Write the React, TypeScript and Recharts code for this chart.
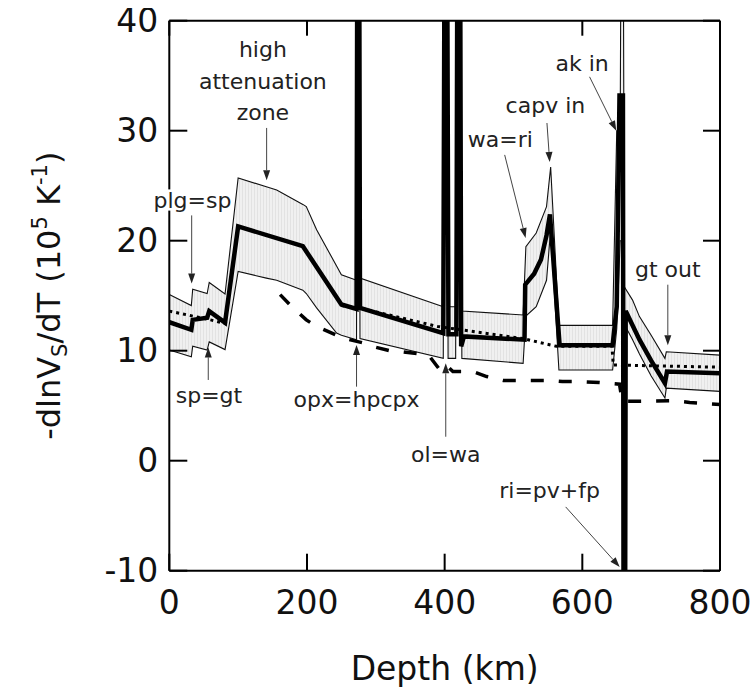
import React from "react";
import { ComposedChart, Line, Area, XAxis, YAxis, ReferenceLine, ReferenceDot } from "recharts";

const xTicks = [0, 200, 400, 600, 800];
const yTicks = [-10, 0, 10, 20, 30, 40];

// envelope (shaded band) - depth km, upper / lower bound
const bandDepth = [0, 32, 34, 55, 58, 81, 100, 141, 156, 194, 199, 214, 243, 250, 272, 273.5, 275.5, 277, 398, 400, 403, 405, 416, 418, 423, 425, 514, 518, 533, 548, 554, 566, 644, 650, 655, 657, 659, 661, 673, 683, 700, 720, 722, 800];
const bandUpper = [15.1, 14.1, 15.6, 15.2, 16.2, 15.15, 25.7, 24.9, 24.6, 23.3, 23.1, 21.0, 17.7, 16.9, 16.4, 60, 60, 16.6, 14.0, 60, 60, 14.0, 14.0, 60, 60, 13.6, 13.25, 19.45, 20.7, 23.1, 26.7, 12.3, 12.3, 30, 30, 60, 60, 15.8, 14.6, 13.1, 11.4, 9.3, 9.9, 9.6];
const bandLower = [10.06, 9.45, 10.4, 10.06, 10.8, 10.1, 17.2, 16.6, 16.4, 15.5, 15.2, 13.9, 11.6, 11.4, 11.0, 60, 60, 11.1, 9.3, 60, 60, 9.3, 9.3, 60, 60, 9.3, 8.85, 13.15, 14.0, 16.4, 21.0, 8.25, 8.25, 12, 20, 20, 20, 12.4, 11.0, 9.7, 7.7, 5.7, 6.6, 6.3];

// thick mean curve
const meanDepth = [0, 32, 34, 55, 58, 81, 100, 194, 250, 272, 273.5, 275.5, 277, 398, 400.5, 403, 405.5, 417, 419, 422, 424, 428, 516, 517, 530, 540, 548, 553, 567, 644, 650, 654, 659, 660, 662, 663, 683, 700, 720, 723, 800];
const meanValue = [12.6, 11.9, 12.8, 13.0, 13.6, 12.55, 21.3, 19.5, 14.2, 13.8, 60, 60, 13.9, 11.6, 60, 60, 11.5, 11.5, 60, 60, 10.4, 11.3, 11.0, 16.0, 17.0, 18.3, 20.5, 22.4, 10.5, 10.5, 14, 33.2, 33.2, -20, -20, 13.6, 11.0, 9.1, 7.05, 8.1, 7.95];

// dotted curve (gap in the high attenuation zone)
const dotDepth = [0, 30, 60, 85, 86, 250, 275, 390, 514, 562, 643, 645, 800];
const dotValue = [13.6, 13.2, 12.8, 12.4, null, 14.1, 13.9, 12.2, 11.1, 10.4, 10.4, 8.7, 8.5];

// dashed curve
const dashDepth = [161, 175, 199, 214, 243, 255, 282, 294, 320, 339, 364, 378, 393, 402, 412, 441, 461, 485, 553, 571, 592, 625, 654, 658, 673, 731, 756, 800];
const dashValue = [15.1, 14.2, 12.8, 12.2, 11.4, 11.1, 10.7, 10.4, 10.0, 9.9, 9.7, 9.5, 8.25, 8.7, 8.1, 8.1, 7.65, 7.3, 7.3, 7.2, 7.2, 7.1, 6.95, 5.4, 5.4, 5.45, 5.3, 5.1];

// annotation texts: text, depth, value (baseline centre)
const noteText = ["high", "attenuation", "zone", "plg=sp", "sp=gt", "opx=hpcpx", "ol=wa", "ri=pv+fp", "wa=ri", "capv in", "ak in", "gt out"];
const noteDepth = [136, 136, 136, 33.7, 57.6, 272, 401.6, 552.5, 480.8, 546.4, 599.7, 724.2];
const noteValue = [36.7, 33.8, 31.0, 22.97, 5.24, 4.88, -0.12, -3.39, 28.5, 31.6, 35.4, 16.7];

// annotation arrows: from (d1,v1) to (d2,v2)
const arrowFrom = [[141.4, 30.25], [32.5, 22.3], [56.6, 7.34], [272, 6.73], [401.6, 2.18], [575.8, -4.2], [487.2, 27.8], [548.6, 30.7], [610.5, 34.9], [724.2, 16.0]];
const arrowTo = [[141.4, 25.5], [32.5, 16.1], [56.6, 10.3], [272, 10.52], [401.6, 8.85], [654.3, -9.66], [517.6, 20.25], [552.6, 27.16], [649.3, 30.0], [724.2, 10.5]];

const rows = (ds: number[], vs: (number | null)[]) => ds.map((d, i) => ({ d, v: vs[i] }));

const bandRows = bandDepth.map((d, i) => ({ d, range: [bandLower[i], bandUpper[i]] }));
const upperRows = rows(bandDepth, bandUpper);
const lowerRows = rows(bandDepth, bandLower);
const meanRows = rows(meanDepth, meanValue);
const dotRows = rows(dotDepth, dotValue);
const dashRows = rows(dashDepth, dashValue);

const W = 745;
const H = 683;
const MARGIN = { top: 12.7, right: 33, bottom: 40.3, left: 11.3 };
const X_DOMAIN = [0, 800];
const Y_DOMAIN = [-10, 40];
const FONT = "DejaVu Sans";

const Arrow = (p: any) => {
  const { x1, y1, x2, y2 } = p;
  const a = Math.atan2(y2 - y1, x2 - x1);
  const L = 10;
  const Wd = 3.5;
  const bx = x2 - L * Math.cos(a);
  const by = y2 - L * Math.sin(a);
  const pts = `${x2},${y2} ${bx + Wd * Math.sin(a)},${by - Wd * Math.cos(a)} ${bx - Wd * Math.sin(a)},${by + Wd * Math.cos(a)}`;
  return (
    <g>
      <line x1={x1} y1={y1} x2={bx} y2={by} stroke="#444" strokeWidth={1} />
      <polygon points={pts} fill="#222" />
    </g>
  );
};

const noteShape = (text: string) => (p: any) => (
  <text
    x={p.cx}
    y={p.cy}
    textAnchor="middle"
    fontSize={22}
    fontFamily={FONT}
    fill="#222"
    stroke="#fff"
    strokeWidth={5}
    paintOrder="stroke"
  >
    {text}
  </text>
);

const YTitle = (props: any) => {
  const vb = props.viewBox || { x: 11.3, y: 12.7, width: 150, height: 550 };
  const cx = vb.x + 41;
  const cy = vb.y + vb.height / 2;
  return (
    <text
      x={cx}
      y={cy}
      transform={`rotate(-90, ${cx}, ${cy})`}
      textAnchor="middle"
      fontSize={32}
      fontFamily={FONT}
      fill="#111"
    >
      -dlnV
      <tspan fontSize={21} dy={7}>S</tspan>
      <tspan dy={-7}>/dT (10</tspan>
      <tspan fontSize={21} dy={-13}>5</tspan>
      <tspan dy={13}> K</tspan>
      <tspan fontSize={21} dy={-13}>-1</tspan>
      <tspan dy={13}>)</tspan>
    </text>
  );
};

const XTitle = (props: any) => {
  const vb = props.viewBox || { x: 161.3, y: 562.7, width: 550.7, height: 80 };
  return (
    <text x={vb.x + vb.width / 2} y={vb.y + 109} textAnchor="middle" fontSize={33} fontFamily={FONT} fill="#111">
      Depth (km)
    </text>
  );
};

const axisStyle = { stroke: "#000", strokeWidth: 2 };
const tickLineStyle = { stroke: "#000", strokeWidth: 2 };
const tickStyle = { fontSize: 33, fill: "#111", fontFamily: FONT };
const blank = () => "";

export default function App() {
  return (
    <div style={{ position: "absolute", left: 8, top: 8, width: W, height: H, fontFamily: FONT, background: "#fff" }}>
      <svg width={0} height={0} style={{ position: "absolute" }}>
        <defs>
          <pattern id="bandHatch" width={3} height={10} patternUnits="userSpaceOnUse">
            <rect width={3} height={10} fill="#f0f0f0" />
            <rect width={1} height={10} fill="#e2e2e2" />
          </pattern>
        </defs>
      </svg>
      <ComposedChart width={W} height={H} margin={MARGIN}>
        {/* labelled axes */}
        <XAxis
          xAxisId="bottom"
          dataKey="d"
          type="number"
          domain={X_DOMAIN}
          ticks={xTicks}
          interval={0}
          allowDataOverflow
          height={80}
          axisLine={axisStyle}
          tickLine={false}
          tickSize={0}
          tickMargin={20}
          tick={tickStyle}
          label={XTitle}
        />
        <YAxis
          yAxisId="left"
          type="number"
          domain={Y_DOMAIN}
          ticks={yTicks}
          interval={0}
          allowDataOverflow
          width={150}
          axisLine={axisStyle}
          tickLine={false}
          tickSize={0}
          tickMargin={11}
          tick={tickStyle}
          label={YTitle}
        />
        {/* mirrored axes: inward tick marks on all four sides */}
        <XAxis
          xAxisId="bottomTicks"
          orientation="bottom"
          mirror
          dataKey="d"
          type="number"
          domain={X_DOMAIN}
          ticks={xTicks}
          interval={0}
          allowDataOverflow
          height={20}
          axisLine={false}
          tickLine={tickLineStyle}
          tickSize={17}
          tickFormatter={blank}
        />
        <XAxis
          xAxisId="top"
          orientation="top"
          mirror
          dataKey="d"
          type="number"
          domain={X_DOMAIN}
          ticks={xTicks}
          interval={0}
          allowDataOverflow
          height={20}
          axisLine={axisStyle}
          tickLine={tickLineStyle}
          tickSize={15}
          tickFormatter={blank}
        />
        <YAxis
          yAxisId="leftTicks"
          orientation="left"
          mirror
          type="number"
          domain={Y_DOMAIN}
          ticks={yTicks}
          interval={0}
          allowDataOverflow
          width={20}
          axisLine={false}
          tickLine={tickLineStyle}
          tickSize={18}
          tickFormatter={blank}
        />
        <YAxis
          yAxisId="right"
          orientation="right"
          mirror
          type="number"
          domain={Y_DOMAIN}
          ticks={yTicks}
          interval={0}
          allowDataOverflow
          width={20}
          axisLine={axisStyle}
          tickLine={tickLineStyle}
          tickSize={17}
          tickFormatter={blank}
        />
        <Area
          xAxisId="bottom"
          yAxisId="left"
          data={bandRows}
          dataKey="range"
          type="linear"
          stroke="none"
          fill="url(#bandHatch)"
          fillOpacity={1}
          isAnimationActive={false}
          dot={false}
          activeDot={false}
        />
        <Line xAxisId="bottom" yAxisId="leftTicks" data={upperRows} dataKey="v" type="linear" stroke="#111" strokeWidth={1.1} dot={false} activeDot={false} isAnimationActive={false} />
        <Line xAxisId="bottom" yAxisId="left" data={lowerRows} dataKey="v" type="linear" stroke="#111" strokeWidth={1.1} dot={false} activeDot={false} isAnimationActive={false} />
        <Line xAxisId="bottomTicks" yAxisId="right" data={dashRows} dataKey="v" type="linear" stroke="#000" strokeWidth={3.5} strokeDasharray="13 15" dot={false} activeDot={false} isAnimationActive={false} />
        <Line xAxisId="top" yAxisId="left" data={dotRows} dataKey="v" type="linear" stroke="#000" strokeWidth={3} strokeDasharray="3 4" dot={false} activeDot={false} isAnimationActive={false} />
        <Line xAxisId="bottom" yAxisId="left" data={meanRows} dataKey="v" type="linear" stroke="#000" strokeWidth={4.5} dot={false} activeDot={false} isAnimationActive={false} />
        {arrowFrom.map((f, i) => (
          <ReferenceLine
            key={`a${i}`}
            xAxisId="bottom"
            yAxisId="left"
            segment={[{ x: f[0], y: f[1] }, { x: arrowTo[i][0], y: arrowTo[i][1] }]}
            ifOverflow="visible"
            shape={Arrow}
          />
        ))}
        {noteText.map((t, i) => (
          <ReferenceDot
            key={`n${i}`}
            xAxisId="bottom"
            yAxisId="left"
            x={noteDepth[i]}
            y={noteValue[i]}
            r={1}
            ifOverflow="visible"
            shape={noteShape(t)}
          />
        ))}
      </ComposedChart>
    </div>
  );
}
